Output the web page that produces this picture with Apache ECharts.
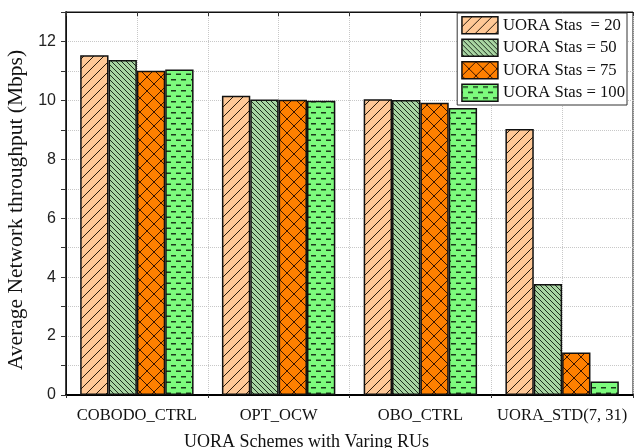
<!DOCTYPE html>
<html>
<head>
<meta charset="utf-8">
<script src="https://cdn.jsdelivr.net/npm/echarts@6/dist/echarts.min.js"></script>
<style>
  html, body { margin: 0; padding: 0; background: #fff; }
  #main { width: 638px; height: 448px; }
</style>
</head>
<body>
<div id="main"></div>
<script>
// data
var schemes = ['COBODO_CTRL', 'OPT_OCW', 'OBO_CTRL', 'UORA_STD(7, 31)'];
var seriesNames = ['UORA Stas  = 20', 'UORA Stas = 50', 'UORA Stas = 75', 'UORA Stas = 100'];
var stas20 = [11.53, 10.16, 10.04, 9.03];
var stas50 = [11.37, 10.03, 10.01, 3.77];
var stas75 = [11.01, 10.02, 9.92, 1.44];
var stas100 = [11.05, 9.99, 9.74, 0.46];

// hatch fills
function makePattern(bg, w, h, draw) {
  var c = document.createElement('canvas');
  c.width = w;
  c.height = h;
  var ctx = c.getContext('2d');
  ctx.fillStyle = bg;
  ctx.fillRect(0, 0, w, h);
  draw(ctx, w, h);
  return { image: c, repeat: 'repeat' };
}
function line(ctx, x1, y1, x2, y2) {
  ctx.beginPath();
  ctx.moveTo(x1, y1);
  ctx.lineTo(x2, y2);
  ctx.stroke();
}
var fills = [
  // forward slash
  makePattern('#FFC896', 10, 10, function (ctx, w, h) {
    ctx.strokeStyle = '#2a1a0a';
    ctx.lineWidth = 1;
    line(ctx, -1, h + 1, w + 1, -1);
    line(ctx, -1, 1, 1, -1);
    line(ctx, w - 1, h + 1, w + 1, h - 1);
  }),
  // back slash, dense
  makePattern('#A8D5A2', 5, 5, function (ctx, w, h) {
    ctx.strokeStyle = '#1e2e1e';
    ctx.lineWidth = 1;
    line(ctx, -1, -1, w + 1, h + 1);
    line(ctx, w - 1, -1, w + 1, 1);
    line(ctx, -1, h - 1, 1, h + 1);
  }),
  // cross hatch
  makePattern('#FF8000', 14, 14, function (ctx, w, h) {
    ctx.strokeStyle = '#3a1500';
    ctx.lineWidth = 1;
    line(ctx, -1, -1, w + 1, h + 1);
    line(ctx, -1, h + 1, w + 1, -1);
  }),
  // staggered dashes
  makePattern('#7DFB7D', 10, 11, function (ctx, w, h) {
    ctx.fillStyle = '#1a3a1a';
    ctx.fillRect(1, 2, 5, 1.5);
    ctx.fillRect(6, 7.5, 5, 1.5);
    ctx.fillRect(-4, 7.5, 5, 1.5);
  })
];

var chart = echarts.init(document.getElementById('main'));
var dotted = { show: true, lineStyle: { color: '#c8c8c8', type: 'dotted', width: 1 } };
var serif = 'Liberation Serif';

chart.setOption({
  animation: false,
  grid: {
    left: 66, right: 5, top: 12, bottom: 53,
    containLabel: false,
    outerBoundsMode: 'none',
    show: true, borderColor: '#111', borderWidth: 1
  },
  legend: {
    data: seriesNames,
    orient: 'vertical',
    top: 13,
    right: 11,
    itemWidth: 36,
    itemHeight: 17,
    itemGap: 4,
    itemStyle: { borderWidth: 1.5 },
    icon: 'rect',
    padding: [3, 2, 3, 4],
    backgroundColor: '#fff',
    borderColor: '#333',
    borderWidth: 1,
    textStyle: { fontFamily: serif, fontSize: 16.7, lineHeight: 17, color: '#111' }
  },
  xAxis: [
    {
      type: 'category',
      data: schemes,
      position: 'bottom',
      axisLine: { lineStyle: { color: '#000', width: 2 } },
      axisTick: { alignWithLabel: true, length: 6, lineStyle: { color: '#333' } },
      axisLabel: { interval: 0, fontFamily: serif, fontSize: 16.5, color: '#111', margin: 12 },
      splitLine: { show: false },
      name: 'UORA Schemes with Varing RUs',
      nameLocation: 'middle',
      nameGap: 38,
      nameTextStyle: { fontFamily: serif, fontSize: 18, color: '#111', padding: [0, 86, 0, 0] }
    },
    {
      type: 'value',
      min: 0, max: 4, interval: 1,
      position: 'bottom',
      axisLine: { show: false },
      axisTick: { show: true, length: 3, lineStyle: { color: '#333' } },
      axisLabel: { show: false },
      splitLine: dotted,
      minorTick: { show: false, splitNumber: 2 },
      minorSplitLine: dotted
    },
    {
      type: 'value',
      min: 0, max: 4, interval: 0.5,
      position: 'top',
      axisLine: { show: true, lineStyle: { color: '#111', width: 1 } },
      axisTick: { show: true, inside: true, length: 4, lineStyle: { color: '#333' } },
      axisLabel: { show: false },
      splitLine: { show: false }
    }
  ],
  yAxis: [
    {
      type: 'value',
      min: 0, max: 13, interval: 1,
      position: 'left',
      axisLine: { show: true, lineStyle: { color: '#444', width: 2 } },
      axisTick: { show: true, length: 4, lineStyle: { color: '#444' } },
      axisLabel: {
        fontFamily: 'Liberation Sans', fontSize: 16, color: '#222', margin: 10,
        formatter: function (v) { return v % 2 === 0 && v <= 12 ? String(v) : ''; }
      },
      splitLine: dotted,
      name: 'Average Network throughput (Mbps)',
      nameLocation: 'middle',
      nameGap: 27,
      nameTextStyle: { fontFamily: serif, fontSize: 21.5, color: '#111', padding: [0, 13, 0, 0] }
    },
    {
      type: 'value',
      min: 0, max: 13, interval: 1,
      position: 'right',
      axisLine: { show: true, lineStyle: { color: '#111', width: 1 } },
      axisTick: { show: true, inside: true, length: 5, lineStyle: { color: '#333' } },
      axisLabel: { show: false },
      splitLine: { show: false }
    }
  ],
  series: [stas20, stas50, stas75, stas100].map(function (vals, i) {
    return {
      name: seriesNames[i],
      type: 'bar',
      xAxisIndex: 0,
      yAxisIndex: 0,
      data: vals,
      barGap: '0%',
      barCategoryGap: '20%',
      itemStyle: { color: fills[i], borderColor: '#111', borderWidth: 1.5 }
    };
  })
});
</script>
</body>
</html>
